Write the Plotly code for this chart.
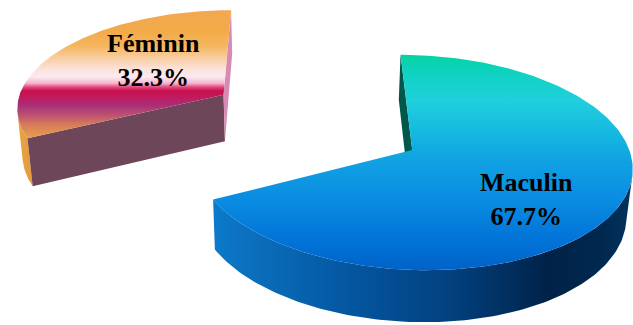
import numpy as np
import plotly.graph_objects as go

# ---- data -------------------------------------------------------------
categories = ["Maculin", "Féminin"]
shares = [67.7, 32.3]          # percent
exploded = [0.0, 1.05]         # radial pull-out, in pie radii

# ---- 3D pie styling ---------------------------------------------------
TILT = np.radians(31)          # elevation of the viewpoint
DIST = 7.37                    # camera distance (pie radii)
FX, FY = 1600, 1520            # focal lengths in px
U0, V0 = 300, 150              # image position of the camera axis
THICK = 0.279                  # pie thickness (pie radii)
PIE_X = 0.517                  # pie centre, lateral offset
START = 90.0                   # first slice starts at 12 o'clock, clockwise

SA, CA = np.sin(TILT), np.cos(TILT)
CAM = np.array([0.0, -DIST * CA])   # camera foot in the (X, Z) plane


def project(X, Z, Y):
    X, Z, Y = np.asarray(X, float), np.asarray(Z, float), np.asarray(Y, float)
    yc = Z * SA + Y * CA
    d = DIST + Z * CA - Y * SA
    return U0 + FX * X / d, V0 - FY * yc / d


def grad(stops):
    return [[p, c] for p, c in stops]


styles = {
    "Maculin": dict(
        top=[(0.00, "#05D3A3"), (0.09, "#10D2C2"), (0.21, "#20D0DC"),
             (0.35, "#16BAE0"), (0.49, "#10A2E2"), (0.67, "#0A8CE2"),
             (0.86, "#0274D8"), (1.00, "#0062C8")],
        rim=[(0.00, "#0C7ACB"), (0.12, "#0A6CB8"), (0.33, "#0456A0"),
             (0.58, "#023F7C"), (0.80, "#002248"), (0.93, "#00284F"),
             (1.00, "#00355F")],
        cut_start="#00574A", cut_end="#00574A",
    ),
    "Féminin": dict(
        top=[(0.00, "#F2A850"), (0.16, "#F3AA48"), (0.28, "#F5B65E"),
             (0.38, "#F8CFA6"), (0.46, "#FBE2DA"), (0.52, "#FCEAF2"),
             (0.57, "#F6B6CE"), (0.60, "#E4487E"), (0.63, "#C8104E"),
             (0.68, "#C21A5E"), (0.74, "#A82E76"), (0.82, "#BC5272"),
             (0.89, "#D67A5C"), (1.00, "#E9A048")],
        rim=[(0.0, "#E9A545"), (1.0, "#E39A3A")],
        cut_start="#6D4659", cut_end="#D98AB2",
    ),
}

fig = go.Figure()


def add_poly(u, v, fillcolor=None, gradient=None):
    kw = dict(x=np.append(u, u[0]), y=np.append(v, v[0]), mode="lines",
              fill="toself", line=dict(width=0), hoverinfo="skip",
              showlegend=False)
    if gradient is not None:
        kw["fillgradient"] = gradient
    else:
        kw["fillcolor"] = fillcolor
    fig.add_trace(go.Scatter(**kw))


# slice angular spans, clockwise from START
spans = []
a = START
for s in shares:
    sweep = 360.0 * s / 100.0
    spans.append((a, a - sweep))
    a -= sweep

# draw back slice first
order = sorted(range(len(categories)),
               key=lambda i: -np.sin(np.radians((spans[i][0] + spans[i][1]) / 2)))

labels = {}
for i in order:
    name = categories[i]
    st = styles[name]
    t0, t1 = spans[i]
    mid = np.radians((t0 + t1) / 2)
    cx = PIE_X + exploded[i] * np.cos(mid)
    cz = exploded[i] * np.sin(mid)
    th = np.radians(np.linspace(t0, t1, 240))
    ax, az = cx + np.cos(th), cz + np.sin(th)

    # outer rim, front-facing part only
    facing = (ax - CAM[0]) * np.cos(th) + (az - CAM[1]) * np.sin(th) < 0
    if facing.any():
        idx = np.where(facing)[0]
        sel = slice(max(idx[0] - 1, 0), min(idx[-1] + 2, len(th)))
        tu, tv = project(ax[sel], az[sel], 0)
        bu, bv = project(ax[sel], az[sel], -THICK)
        u = np.concatenate([tu, bu[::-1]])
        v = np.concatenate([tv, bv[::-1]])
        add_poly(u, v, gradient=dict(type="horizontal", colorscale=grad(st["rim"]),
                                     start=float(u.min()), stop=float(u.max())))

    # radial cut faces
    for ang, nrm, col in ((t0, t0 + 90, st["cut_start"]), (t1, t1 - 90, st["cut_end"])):
        n = np.array([np.cos(np.radians(nrm)), np.sin(np.radians(nrm))])
        if (cx - CAM[0]) * n[0] + (cz - CAM[1]) * n[1] < 0:
            ex, ez = cx + np.cos(np.radians(ang)), cz + np.sin(np.radians(ang))
            u, v = project([cx, ex, ex, cx], [cz, ez, ez, cz],
                           [0, 0, -THICK, -THICK])
            add_poly(u, v, fillcolor=col)

    # top face
    u, v = project(np.concatenate([[cx], ax]), np.concatenate([[cz], az]), 0)
    add_poly(u, v, gradient=dict(type="vertical", colorscale=grad(st["top"]),
                                 start=float(v.min()), stop=float(v.max())))

    lu, lv = project(cx + 0.5 * np.cos(mid), cz + 0.5 * np.sin(mid), 0)
    labels[name] = (float(lu), float(lv))

label_shift = {"Maculin": (16, -21), "Féminin": (12, 10)}
for name, s in zip(categories, shares):
    lu, lv = labels[name]
    fig.add_annotation(x=lu, y=lv, xref="x", yref="y", showarrow=False,
                       text=f"<b>{name}<br>{s:.1f}%</b>",
                       xshift=label_shift[name][0], yshift=label_shift[name][1],
                       font=dict(family="Liberation Serif, Times New Roman, serif",
                                 size=26, color="black"))

fig.update_layout(
    width=633, height=325, margin=dict(l=0, r=0, t=0, b=0),
    paper_bgcolor="white", plot_bgcolor="white",
    xaxis=dict(range=[0, 633], visible=False, fixedrange=True),
    yaxis=dict(range=[325, 0], visible=False, fixedrange=True),
)
fig.write_html("out.html")
